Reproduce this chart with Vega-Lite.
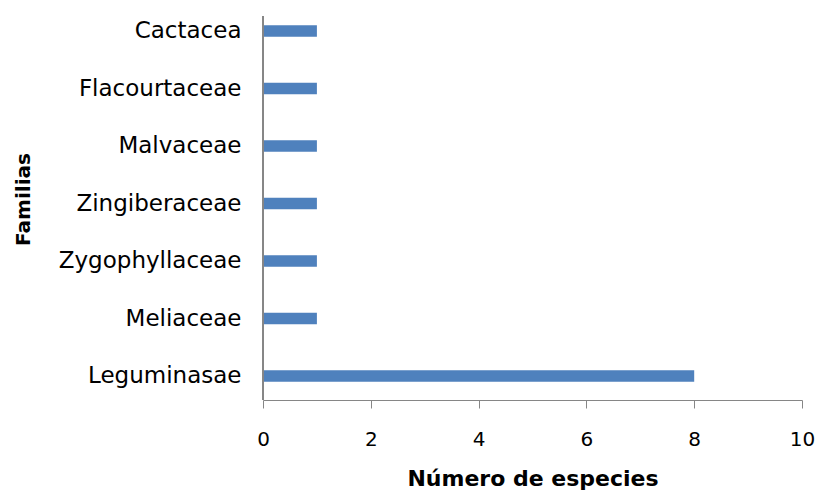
{
  "$schema": "https://vega.github.io/schema/vega-lite/v6.json",
  "width": 539,
  "height": 384,
  "autosize": "none",
  "padding": {"left": 263, "top": 16, "right": 16, "bottom": 91},
  "background": "white",
  "config": {"view": {"stroke": null}, "font": "DejaVu Sans"},
  "data": {
    "values": [
      {"familia": "Cactacea", "especies": 1},
      {"familia": "Flacourtaceae", "especies": 1},
      {"familia": "Malvaceae", "especies": 1},
      {"familia": "Zingiberaceae", "especies": 1},
      {"familia": "Zygophyllaceae", "especies": 1},
      {"familia": "Meliaceae", "especies": 1},
      {"familia": "Leguminasae\u00a0", "especies": 8}
    ]
  },
  "layer": [
    {
      "mark": {"type": "bar", "color": "#4F81BD"},
      "encoding": {
        "y": {
          "field": "familia",
          "type": "nominal",
          "sort": null,
          "scale": {"range": [9.25, 365.75], "paddingInner": 0.8, "paddingOuter": 0},
          "axis": {
            "title": "Familias",
            "titleFont": "DejaVu Sans",
            "titleFontSize": 20,
            "titleFontWeight": "bold",
            "titleColor": "#000000",
            "titleX": -240,
            "titleY": 183,
            "titleBaseline": "middle",
            "titleAlign": "center",
            "titleAngle": -90,
            "domain": false,
            "ticks": false,
            "labelPadding": 22,
            "labelFontSize": 23,
            "labelLimit": 300,
            "labelColor": "#000000",
            "labelFont": "DejaVu Sans"
          }
        },
        "x": {
          "field": "especies",
          "type": "quantitative",
          "scale": {"domain": [0, 10], "nice": false},
          "axis": {
            "values": [0, 2, 4, 6, 8, 10],
            "grid": false,
            "title": "Número de especies",
            "titleFont": "DejaVu Sans",
            "titleFontSize": 22,
            "titleFontWeight": "bold",
            "titleColor": "#000000",
            "titleY": 78,
            "titleBaseline": "middle",
            "domainColor": "#868686",
            "tickColor": "#868686",
            "tickSize": 8,
            "labelPadding": 21,
            "labelFontSize": 20,
            "labelColor": "#000000",
            "labelFont": "DejaVu Sans",
            "labelFlush": false
          }
        }
      }
    },
    {
      "mark": {"type": "rule", "color": "#868686", "strokeWidth": 1},
      "encoding": {"x": {"datum": 0, "type": "quantitative"}}
    }
  ]
}
